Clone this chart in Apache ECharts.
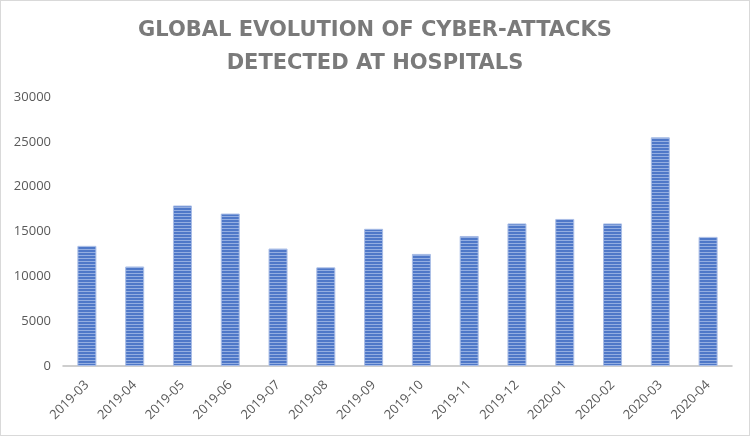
<!DOCTYPE html>
<html>
<head>
<meta charset="utf-8">
<script src="https://cdn.jsdelivr.net/npm/echarts@6/dist/echarts.min.js"></script>
<style>
  html, body { margin: 0; padding: 0; background: #fff; }
  #chart { width: 750px; height: 436px; box-sizing: border-box; border: 1px solid #d9d9d9; }
</style>
</head>
<body>
<div id="chart"></div>
<script>
// months on the x axis
const months = ['2019-03', '2019-04', '2019-05', '2019-06', '2019-07', '2019-08', '2019-09',
    '2019-10', '2019-11', '2019-12', '2020-01', '2020-02', '2020-03', '2020-04'];
// attacks detected per month
const attacks = [13400, 11100, 17900, 17000, 13100, 11000, 15300,
    12500, 14500, 15900, 16400, 15900, 25500, 14400];
const yTicks = [0, 5000, 10000, 15000, 20000, 25000, 30000];

// horizontal stripe fill like the excel bars
function stripes() {
    const c = document.createElement('canvas');
    c.width = 4;
    c.height = 3;
    const ctx = c.getContext('2d');
    ctx.fillStyle = '#4f78c8';
    ctx.fillRect(0, 0, 4, 2);
    ctx.fillStyle = '#94aee1';
    ctx.fillRect(0, 2, 4, 1);
    return c;
}

const myChart = echarts.init(document.getElementById('chart'));
const option = {
    animation: false,
    title: {
        text: 'GLOBAL EVOLUTION OF CYBER-ATTACKS\nDETECTED AT HOSPITALS',
        left: 'center',
        top: 8,
        textStyle: {
            fontFamily: 'DejaVu Sans',
            fontWeight: 'bold',
            fontSize: 21,
            lineHeight: 33,
            color: '#7a7a7a'
        }
    },
    grid: { left: 62, right: 17, top: 96, bottom: 69 },
    xAxis: {
        type: 'category',
        data: months,
        axisLine: { lineStyle: { color: '#bfbfbf', width: 1.5 } },
        axisTick: { show: false },
        axisLabel: {
            rotate: 45,
            margin: 17,
            fontFamily: 'Open Sans',
            fontSize: 13,
            color: '#595959'
        }
    },
    yAxis: {
        type: 'value',
        min: yTicks[0],
        max: yTicks[yTicks.length - 1],
        interval: yTicks[1] - yTicks[0],
        splitLine: { show: false },
        axisLine: { show: false },
        axisTick: { show: false },
        axisLabel: {
            margin: 12,
            fontFamily: 'Open Sans',
            fontSize: 13,
            color: '#595959',
            formatter: v => String(v)
        }
    },
    series: [{
        name: 'Attacks',
        type: 'bar',
        data: attacks,
        barWidth: 19,
        itemStyle: {
            color: { image: stripes(), repeat: 'repeat' },
            borderColor: '#a9bde6',
            borderWidth: 1
        }
    }]
};
myChart.setOption(option);
</script>
</body>
</html>
